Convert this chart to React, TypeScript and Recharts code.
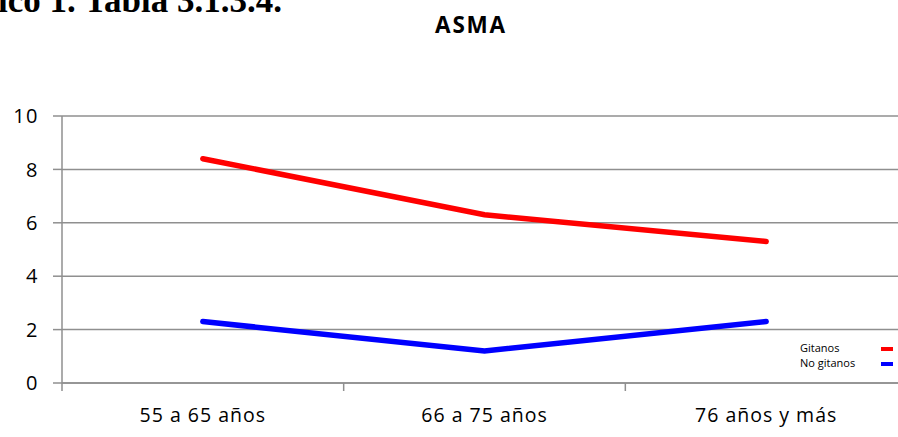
import { LineChart, Line, XAxis, YAxis, CartesianGrid } from "recharts";

const categories = ["55 a 65 años", "66 a 75 años", "76 años y más"];
const gitanos = [8.4, 6.3, 5.3];
const noGitanos = [2.3, 1.2, 2.3];
const yTicks = [0, 2, 4, 6, 8, 10];
const seriesNames = ["Gitanos", "No gitanos"];
const seriesColors = ["#ff0000", "#0000ff"];

const data = categories.map((name, i) => ({
  name,
  [seriesNames[0]]: gitanos[i],
  [seriesNames[1]]: noGitanos[i],
}));

const CHART_W = 920;
const CHART_H = 437;
const MARGIN = { top: 116, right: 13, bottom: 0, left: 0 };
const Y_W = 62;
const GRID = "#8f8f8f";
const FONT = "'Open Sans', sans-serif";

const band = (CHART_W - MARGIN.left - MARGIN.right - Y_W) / categories.length;

function CategoryTick(props: any) {
  const { x, y, payload } = props;
  return (
    <g>
      <line x1={x - band / 2} x2={x - band / 2} y1={y - 8} y2={y} stroke={GRID} strokeWidth={1.5} />
      <text x={x} y={y + 31} textAnchor="middle" fill="#000" fontSize={19.5} fontFamily={FONT} letterSpacing={1}>
        {payload.value}
      </text>
    </g>
  );
}

export default function App() {
  return (
    <div style={{ position: "fixed", left: 0, top: 0, width: 898, height: 437, overflow: "hidden", background: "#fff" }}>
      <LineChart width={CHART_W} height={CHART_H} data={data} margin={MARGIN} style={{ position: "absolute", left: 0, top: 0 }}>
        <CartesianGrid vertical={false} stroke={GRID} strokeWidth={1.5} />
        <XAxis
          dataKey="name"
          height={54}
          padding={{ left: band / 2, right: band / 2 }}
          axisLine={{ stroke: GRID, strokeWidth: 1.5 }}
          tickLine={false}
          tickSize={8}
          tickMargin={0}
          tick={<CategoryTick />}
          interval={0}
        />
        <YAxis
          width={Y_W}
          domain={[0, 10]}
          ticks={yTicks}
          axisLine={{ stroke: GRID, strokeWidth: 1.5 }}
          tickLine={{ stroke: GRID, strokeWidth: 1.5 }}
          tickSize={9}
          tickMargin={14}
          tick={{ fill: "#000", fontSize: 20, fontFamily: FONT, letterSpacing: 1.5 }}
        />
        {seriesNames.map((s, i) => (
          <Line key={s} dataKey={s} stroke={seriesColors[i]} strokeWidth={5.5} strokeLinecap="round" dot={false} isAnimationActive={false} />
        ))}
      </LineChart>
      <svg width={898} height={437} style={{ position: "absolute", left: 0, top: 0, pointerEvents: "none" }}>
        <text x={-2} y={12} fontFamily="'Liberation Serif', serif" fontWeight="bold" fontSize={35} fill="#000">
          ico 1. Tabla 3.1.3.4.
        </text>
        <text x={471} y={33} textAnchor="middle" fontFamily={FONT} fontWeight="bold" fontSize={22.5} letterSpacing={1.8} fill="#000">
          ASMA
        </text>
        {seriesNames.map((s, i) => (
          <g key={s}>
            <text x={800} y={352 + i * 15} fontFamily={FONT} fontSize={11} fill="#000">
              {s}
            </text>
            <rect x={881} y={347 + i * 15} width={12} height={4} fill={seriesColors[i]} />
          </g>
        ))}
      </svg>
    </div>
  );
}
